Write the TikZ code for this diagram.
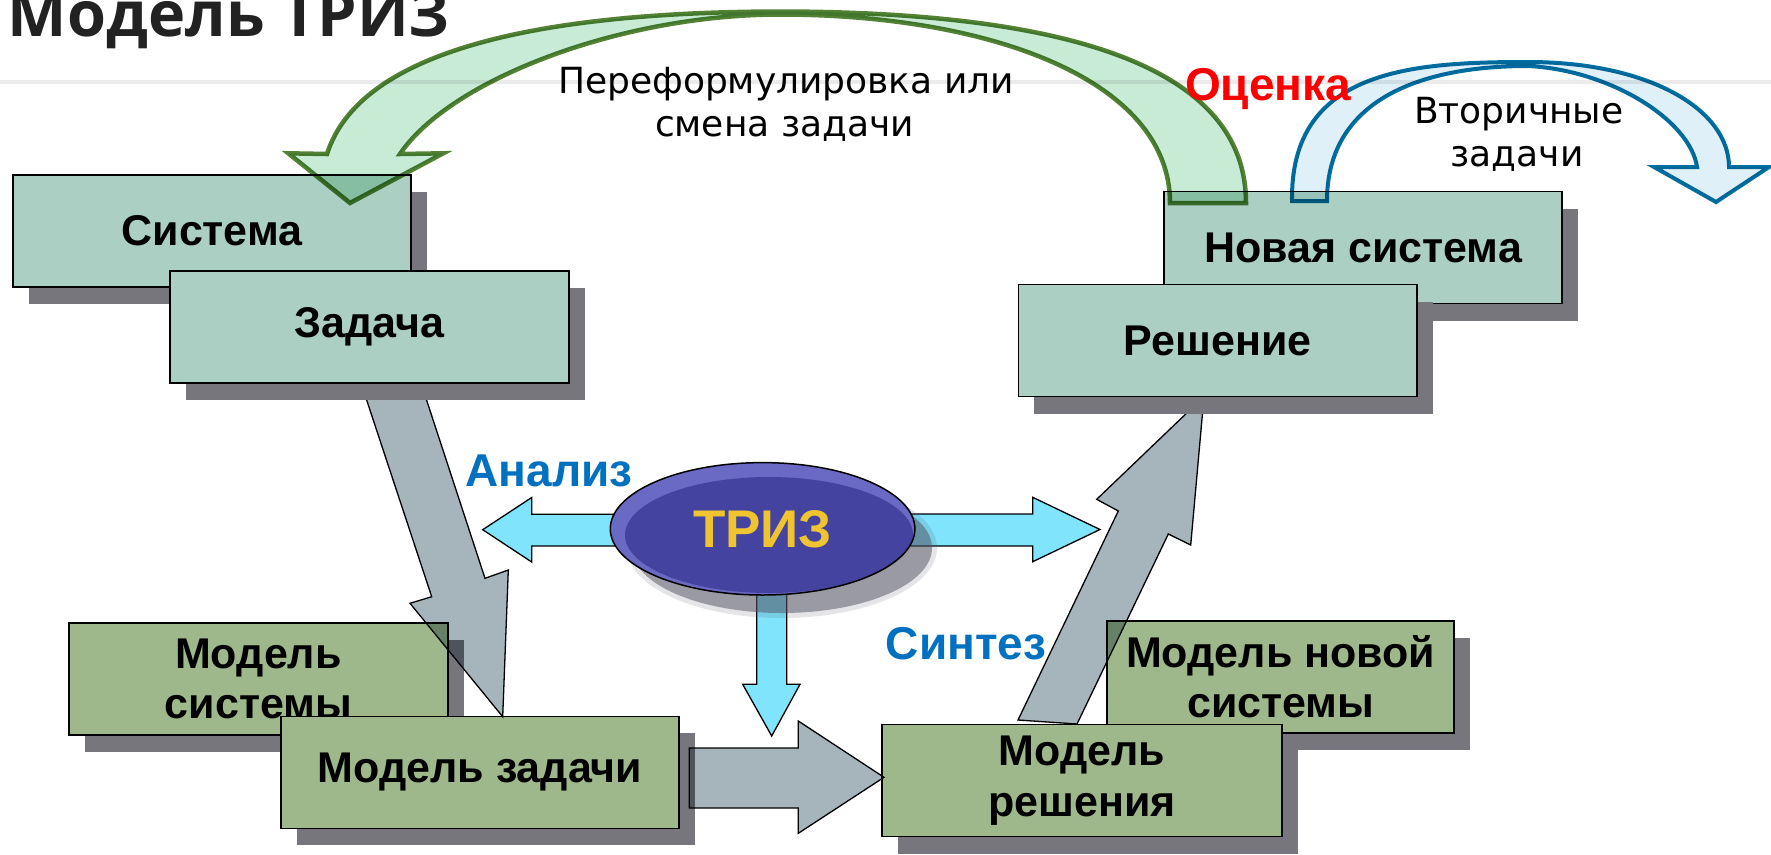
\documentclass[tikz,border=0pt]{standalone}
\usepackage{fontspec}
\setmainfont{Liberation Sans}
\newfontfamily\titlefont{Open Sans}
\newfontfamily\djv{DejaVu Sans}
\usetikzlibrary{shapes.geometric,shadows}

\definecolor{boxU}{RGB}{171,207,194}
\definecolor{boxL}{RGB}{158,184,139}
\definecolor{shd}{RGB}{120,118,125}
\definecolor{grayarrow}{RGB}{166,180,188}
\definecolor{lblue}{RGB}{128,229,252}
\definecolor{gfill}{RGB}{200,235,214}
\definecolor{gline}{RGB}{84,130,53}
\definecolor{bfill}{RGB}{224,240,248}
\definecolor{bline}{RGB}{0,110,160}
\definecolor{ellL}{RGB}{106,106,196}
\definecolor{ellD}{RGB}{68,68,160}
\definecolor{ellS}{RGB}{81,81,97}
\definecolor{trizc}{RGB}{240,196,48}
\definecolor{lblblue}{RGB}{0,112,192}
\definecolor{titlec}{RGB}{34,34,34}
\definecolor{rulec}{RGB}{235,235,235}

\begin{document}
\begin{tikzpicture}[x=1pt,y=-1pt,
  box/.style={draw=black, line width=1.8pt, minimum height=112pt, inner sep=0pt, align=center,
    font=\bfseries\fontsize{43}{50.5}\selectfont,
    drop shadow={shadow xshift=16pt, shadow yshift=-17pt, fill=shd, opacity=1}},
  ubox/.style={box, fill=boxU},
  lbox/.style={box, fill=boxL},
  garrow/.style={draw=black, line width=1.3pt, fill=grayarrow, blend mode=multiply},
  barrow/.style={draw=black, line width=1.3pt, fill=lblue},
  lbl/.style={font=\bfseries\fontsize{46}{55}\selectfont, text=lblblue, inner sep=0pt, anchor=base},
  note/.style={font=\djv\fontsize{36}{43}\selectfont, inner sep=0pt, anchor=base},
]
\useasboundingbox (0,0) rectangle (1771,854);
\fill[white] (0,0) rectangle (1771,854);
\clip (0,0) rectangle (1771,854);

% header rule and title
\coordinate (ruleL) at (0,82);
\coordinate (ruleR) at (1771,82);
\draw[rulec, line width=4pt] (ruleL) -- (ruleR);
\node[anchor=base west, inner sep=0pt, font=\titlefont\bfseries\fontsize{63}{70}\selectfont, text=titlec] (title) at (7.7,36.7) {Модель ТРИЗ};

% lower boxes
\node[lbox, minimum width=379pt] (msys) at (258.4,678.9) {Модель\\системы};
\node[lbox, minimum width=398pt] (mtask) at (480,772.4) {Модель задачи};
\node[lbox, minimum width=347pt] (mnew) at (1280.7,676.7) {Модель новой\\системы};
\node[lbox, minimum width=399.5pt] (msol) at (1082,780.5) {Модель\\решения};

% light blue arrows from TRIZ
\draw[barrow] (640,514.3) -- (531.7,514.3) -- (531.7,497.5) -- (482.7,529.7) -- (531.7,562) -- (531.7,546) -- (640,546) -- cycle;
\draw[barrow] (890,514) -- (1032.7,514) -- (1032.7,497.3) -- (1100,529.5) -- (1032.7,561.7) -- (1032.7,546) -- (890,546) -- cycle;
\draw[barrow] (756.7,590) -- (786.7,590) -- (786.7,684.3) -- (800,684.3) -- (771.7,736) -- (742.7,684.3) -- (756.7,684.3) -- cycle;

% TRIZ ellipse
\fill[ellS, opacity=0.15] (782,548) ellipse [x radius=155pt, y radius=70pt];
\fill[ellS, opacity=0.5] (782,548) ellipse [x radius=150pt, y radius=65pt];
\fill[ellL] (762.6,528.8) ellipse [x radius=152.3pt, y radius=66.2pt];
\begin{scope}
  \clip (762.6,528.8) ellipse [x radius=152.3pt, y radius=66.2pt];
  \fill[ellD] (769,535) ellipse [x radius=144pt, y radius=58pt];
\end{scope}
\node[ellipse, draw=black, line width=1.5pt, minimum width=304.6pt, minimum height=132.4pt, inner sep=0pt,
  font=\bfseries\fontsize{53}{60}\selectfont, text=trizc] (triz) at (762.6,528.8) {ТРИЗ};

% gray block arrows
\draw[garrow] (361,383) -- (421,383) -- (485,578.3) -- (508.3,570) -- (502.7,716.7) -- (410,603.3) -- (431.7,596.7) -- cycle;
\draw[garrow] (1018,720) -- (1077,724) -- (1168.3,534) -- (1190.7,545) -- (1204,396.5) -- (1096.7,499.3) -- (1118.3,511) -- cycle;
\draw[garrow] (689.3,748) -- (798.3,748) -- (798.3,721) -- (884,777.3) -- (798.3,833.3) -- (798.3,808) -- (689.3,808) -- cycle;

% upper boxes
\node[ubox, minimum width=398pt] (sys) at (212,231) {Система};
\node[ubox, minimum width=399pt] (task) at (369.5,327) {Задача};
\node[ubox, minimum width=398pt] (newsys) at (1363,247.5) {Новая система};
\node[ubox, minimum width=398.6pt] (sol) at (1217.7,340.5) {Решение};

% green curved arrow
\draw[draw=gline, fill=gfill, line width=4.5pt, blend mode=multiply]
  (288.3,153.3) -- (327,154)
  .. controls (360,50) and (540,12) .. (780,11.5)
  .. controls (1050,12) and (1246,60) .. (1246,203)
  -- (1170,203)
  .. controls (1170,80) and (990,14.5) .. (780,14.5)
  .. controls (620,14.5) and (450,80) .. (400,154)
  -- (443.3,153.3) -- (350,203) -- cycle;

% blue curved arrow
\draw[draw=bline, fill=bfill, line width=4pt, blend mode=multiply]
  (1292,201) .. controls (1290,70) and (1410,62) .. (1528,62)
  .. controls (1650,62) and (1729,110) .. (1729,167)
  -- (1769,167) -- (1716,202) -- (1654,167) -- (1697,167)
  .. controls (1690,120) and (1610,70) .. (1528,66)
  .. controls (1420,66) and (1327,100) .. (1327,201) -- cycle;

% labels
\node[note] (ref1) at (786,93.3) {Переформулировка или};
\node[note] (ref2) at (784.5,136.7) {смена задачи};
\node[note] (sec1) at (1518.7,123.5) {Вторичные};
\node[note] (sec2) at (1517,166.7) {задачи};
\node[lbl, text=red] (eval) at (1268,100) {Оценка};
\node[lbl] (anal) at (549,486.7) {Анализ};
\node[lbl] (synth) at (966,659) {Синтез};
\end{tikzpicture}
\end{document}
